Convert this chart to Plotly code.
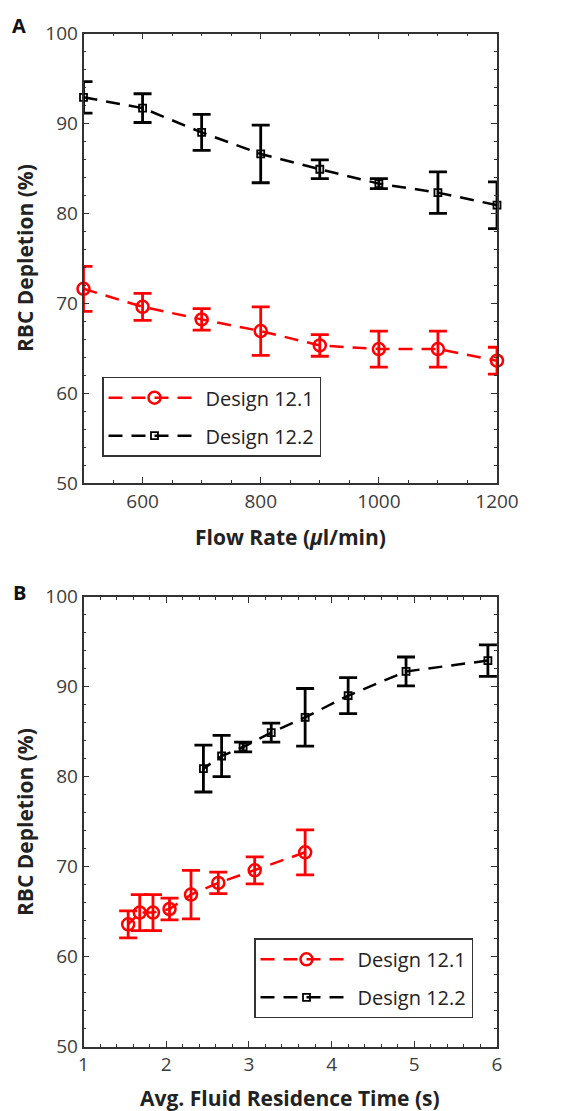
import plotly.graph_objects as go

# ---------------- data ----------------
flow_rate = [500, 600, 700, 800, 900, 1000, 1100, 1200]

d121_depl = [71.6, 69.6, 68.2, 66.9, 65.3, 64.9, 64.9, 63.6]
d121_err = [2.5, 1.5, 1.2, 2.7, 1.2, 2.0, 2.0, 1.5]
d122_depl = [92.9, 91.7, 89.0, 86.6, 84.9, 83.3, 82.3, 80.9]
d122_err = [1.75, 1.6, 2.0, 3.2, 1.05, 0.55, 2.3, 2.6]

d121_time = [3.68, 3.07, 2.63, 2.30, 2.04, 1.84, 1.68, 1.54]
d122_time = [5.89, 4.90, 4.20, 3.68, 3.27, 2.93, 2.67, 2.45]

series_names = ["Design 12.1", "Design 12.2"]
y_ticks = [50, 60, 70, 80, 90, 100]
x1_ticks = [600, 800, 1000, 1200]
x2_ticks = [1, 2, 3, 4, 5, 6]

# ---------------- style ----------------
W, H = 569, 1111
FONT = "Open Sans"
AX = "#333333"
RED = "#ff0000"
BLK = "#000000"
DASH = "14px,9px"


def px_x(p):
    return p / W


def px_y(p):
    return 1 - p / H


fig = go.Figure()


def add(x, y, e, name, color, symbol, size, mlw, xa, ya, legend, group):
    fig.add_trace(go.Scatter(
        x=x, y=y, name=name, mode="lines+markers",
        xaxis=xa, yaxis=ya, legend=legend, legendgroup=group,
        cliponaxis=False,
        line=dict(color=color, width=2.5, dash=DASH),
        marker=dict(symbol=symbol, size=size, color=color,
                    line=dict(color=color, width=mlw)),
        error_y=dict(type="data", array=e, visible=True, color=color,
                     thickness=2.8, width=9),
    ))


add(flow_rate, d121_depl, d121_err, series_names[0], RED, "circle-open", 12, 2.5, "x", "y", "legend", "a")
add(flow_rate, d122_depl, d122_err, series_names[1], BLK, "square-open", 7, 1.8, "x", "y", "legend", "b")
add(d121_time, d121_depl, d121_err, series_names[0], RED, "circle-open", 12, 2.5, "x2", "y2", "legend2", "c")
add(d122_time, d122_depl, d122_err, series_names[1], BLK, "square-open", 7, 1.8, "x2", "y2", "legend2", "d")

tickfont = dict(family=FONT, size=19, color="#3c3c3c")

common_axis = dict(
    showline=True, linecolor=AX, linewidth=1.6, mirror="ticks",
    ticks="inside", ticklen=6, tickwidth=1.2, tickcolor=AX,
    showgrid=False, zeroline=False, tickfont=tickfont, automargin=False,
)

top_dom = [px_y(483), px_y(33.5)]
bot_dom = [px_y(1046.7), px_y(596.7)]
x_dom = [px_x(83.5), px_x(497)]

legend_common = dict(xanchor="left", yanchor="top",
                     bgcolor="white", bordercolor=AX, borderwidth=1.5,
                     font=dict(family=FONT, size=20, color="#222"),
                     itemwidth=92, tracegroupgap=9)

fig.update_layout(
    width=W, height=H, autosize=False,
    margin=dict(l=0, r=0, t=0, b=0),
    paper_bgcolor="white", plot_bgcolor="white",
    showlegend=True,
    xaxis=dict(common_axis, domain=x_dom, anchor="y", range=[500, 1200],
               tickvals=x1_ticks,
               minor=dict(ticks="inside", dtick=50, tick0=0, ticklen=3, tickcolor=AX)),
    yaxis=dict(common_axis, domain=top_dom, anchor="x", range=[50, 100],
               tickvals=y_ticks,
               minor=dict(ticks="inside", dtick=2, tick0=0, ticklen=3, tickcolor=AX)),
    xaxis2=dict(common_axis, domain=x_dom, anchor="y2", range=[1, 6],
                tickvals=x2_ticks,
                minor=dict(ticks="inside", dtick=0.2, tick0=0, ticklen=3, tickcolor=AX)),
    yaxis2=dict(common_axis, domain=bot_dom, anchor="x2", range=[50, 100],
                tickvals=y_ticks,
                minor=dict(ticks="inside", dtick=2, tick0=0, ticklen=3, tickcolor=AX)),
    legend=dict(legend_common, x=px_x(102), y=px_y(376.7)),
    legend2=dict(legend_common, x=px_x(254), y=px_y(938.3)),
)

titlefont = dict(family=FONT, size=21, color="#222")
ann = [
    dict(text="<b>A</b>", x=px_x(19), y=px_y(25), font=dict(family=FONT, size=20, color="#111")),
    dict(text="<b>B</b>", x=px_x(19), y=px_y(592), font=dict(family=FONT, size=20, color="#111")),
    dict(text="<b>RBC Depletion (%)</b>", x=px_x(25), y=px_y(258), textangle=-90, font=titlefont),
    dict(text="<b>RBC Depletion (%)</b>", x=px_x(25), y=px_y(822), textangle=-90, font=titlefont),
    dict(text="<b>Flow Rate (<i>μ</i>l/min)</b>", x=px_x(290), y=px_y(537), font=titlefont),
    dict(text="<b>Avg. Fluid Residence Time (s)</b>", x=px_x(290), y=px_y(1098), font=titlefont),
]
for a in ann:
    fig.add_annotation(xref="paper", yref="paper", showarrow=False,
                       xanchor="center", yanchor="middle", **a)

fig.write_html("out.html")
